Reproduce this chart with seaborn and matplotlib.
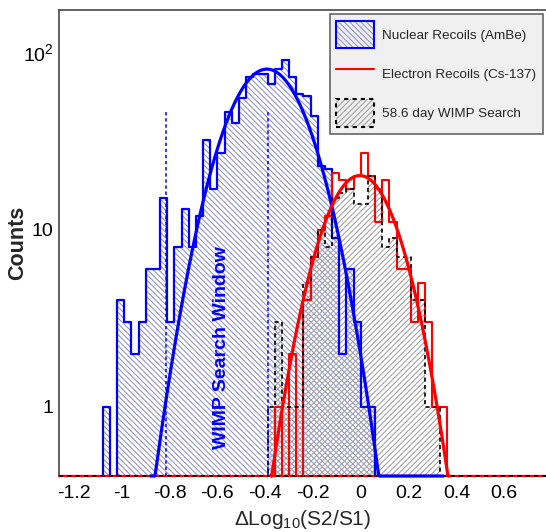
import numpy as np
import pandas as pd
import matplotlib
matplotlib.use("Agg")
import matplotlib.pyplot as plt
import seaborn as sns
from matplotlib.patches import Patch
from matplotlib.lines import Line2D
from matplotlib.legend_handler import HandlerTuple
from matplotlib.ticker import FixedLocator, FixedFormatter, NullFormatter

# ---------------- data ----------------
bin_width = 0.03
hist_lo, hist_hi = -1.29, 0.81

# Nuclear recoils (AmBe): counts per 0.03 bin, first bin starts at -1.08
nr_first_edge = -1.08
nr_counts = [1, 0, 4, 3, 2, 3, 6, 6, 15, 3,
             8, 13, 8, 12, 32, 17, 27, 46, 40, 55,
             73, 76, 76, 66, 81, 91, 73, 58, 57, 44,
             23, 22, 9, 2, 6, 3, 1, 1]

# Electron recoils (Cs-137): first bin starts at -0.36
er_first_edge = -0.36
er_counts = [1, 0, 2, 0, 4, 7, 10, 12, 21, 19,
             17, 20, 27, 20, 11, 19, 11, 6, 6, 3,
             5, 3, 1, 1]

# 58.6 day WIMP search: first bin starts at -0.39
wimp_first_edge = -0.39
wimp_counts = [1, 3, 1, 1, 1, 5, 7, 10, 8, 15,
               16, 17, 14, 14, 20, 17, 8, 9, 7, 7,
               4, 4, 1, 1]

# Gaussian fits (amplitude, mean, sigma, drawn range)
nr_fit = [80.5, -0.393, 0.144, -0.88, 0.345]
er_fit = [20.2, -0.004, 0.132, -0.375, 0.37]

window_edges = [-0.815, -0.388]
window_top = 46

x_ticks = [-1.2, -1.0, -0.8, -0.6, -0.4, -0.2, 0.0, 0.2, 0.4, 0.6]
x_tick_labels = ["-1.2", "-1", "-0.8", "-0.6", "-0.4", "-0.2", "0", "0.2", "0.4", "0.6"]
y_ticks = [1, 10, 100]
y_tick_labels = ["1", "10", "10$^{2}$"]
legend_labels = ["Nuclear Recoils (AmBe)", "Electron Recoils (Cs-137)", "58.6 day WIMP Search"]

x_lim = (-1.263, 0.775)
y_lim = (0.408, 173.4)

# ---------------- style ----------------
sns.set_theme(style="white")
plt.rcParams["font.family"] = ["Liberation Sans", "DejaVu Sans"]
plt.rcParams["mathtext.fontset"] = "custom"
plt.rcParams["mathtext.rm"] = "Liberation Sans"
plt.rcParams["mathtext.it"] = "Liberation Sans:italic"
plt.rcParams["mathtext.bf"] = "Liberation Sans:bold"
plt.rcParams["hatch.linewidth"] = 0.8

NR_BLUE = "#0000ff"
ER_RED = "#ff0000"
NR_HATCH = "#9496cc"
WIMP_HATCH = "#a3a3a3"
AXIS_GRAY = "#555555"
NR_HATCH_PAT = "\\" * 6
WIMP_HATCH_PAT = "/" * 6

fig = plt.figure(figsize=(5.46, 5.32), dpi=100)
fig.patch.set_facecolor("white")
ax = fig.add_axes([59 / 546, 56 / 532, 487 / 546, 466 / 532])
ax.set_yscale("log")

n_bins = int(round((hist_hi - hist_lo) / bin_width))
edges = [round(hist_lo + bin_width * i, 4) for i in range(n_bins + 1)]
centers = np.array(edges[:-1]) + bin_width / 2


def full_counts(first_edge, counts):
    arr = np.zeros(n_bins)
    i0 = int(round((first_edge - hist_lo) / bin_width))
    arr[i0:i0 + len(counts)] = counts
    return arr


df = pd.DataFrame({
    "x": centers,
    "nr": full_counts(nr_first_edge, nr_counts),
    "er": full_counts(er_first_edge, er_counts),
    "wimp": full_counts(wimp_first_edge, wimp_counts),
})

# baseline (empty bins drawn along the bottom)
ax.axhline(y_lim[0], color=ER_RED, lw=1.6, clip_on=False, zorder=2.6)
ax.axhline(y_lim[0], color="black", lw=1.2, ls=(0, (2.5, 2.5)), clip_on=False, zorder=2.7)

# hatched fills
sns.histplot(data=df, x="x", weights="nr", bins=edges, element="step", fill=True,
             color=NR_HATCH, facecolor="none", edgecolor=NR_HATCH, linewidth=0,
             hatch=NR_HATCH_PAT, ax=ax, zorder=1)
sns.histplot(data=df, x="x", weights="wimp", bins=edges, element="step", fill=True,
             color=WIMP_HATCH, facecolor="none", edgecolor=WIMP_HATCH, linewidth=0,
             hatch=WIMP_HATCH_PAT, ax=ax, zorder=1)

# outlines
sns.histplot(data=df, x="x", weights="nr", bins=edges, element="step", fill=False,
             color=NR_BLUE, linewidth=1.6, ax=ax, zorder=3)
sns.histplot(data=df, x="x", weights="er", bins=edges, element="step", fill=False,
             color=ER_RED, linewidth=1.5, ax=ax, zorder=3.1)
sns.histplot(data=df, x="x", weights="wimp", bins=edges, element="step", fill=False,
             color="black", linewidth=1.2, linestyle=(0, (2.5, 2.0)), ax=ax, zorder=3.2)


def gauss_curve(p):
    amp, mu, sig, lo, hi = p
    xs = np.linspace(lo, hi, 400)
    ys = amp * np.exp(-0.5 * ((xs - mu) / sig) ** 2)
    return xs, np.maximum(ys, y_lim[0])


xs, ys = gauss_curve(nr_fit)
sns.lineplot(x=xs, y=ys, color=NR_BLUE, linewidth=2.3, ax=ax, estimator=None,
             sort=False, clip_on=False, zorder=4)
xs, ys = gauss_curve(er_fit)
sns.lineplot(x=xs, y=ys, color=ER_RED, linewidth=2.3, ax=ax, estimator=None,
             sort=False, clip_on=False, zorder=4.1)

# WIMP search window
for xw in window_edges:
    ax.plot([xw, xw], [y_lim[0], window_top], color=NR_BLUE, lw=1.1,
            ls=(0, (2.2, 1.8)), zorder=3.5)
ax.text(-0.582, 2.15, "WIMP Search Window", rotation=90, ha="center", va="center",
        color=NR_BLUE, fontsize=14, fontweight="bold", zorder=5)

# axes
ax.set_xlim(*x_lim)
ax.set_ylim(*y_lim)
ax.xaxis.set_major_locator(FixedLocator(x_ticks))
ax.xaxis.set_major_formatter(FixedFormatter(x_tick_labels))
ax.xaxis.set_minor_locator(FixedLocator(np.round(np.arange(-1.25, 0.78, 0.05), 3)))
ax.yaxis.set_major_locator(FixedLocator(y_ticks))
ax.yaxis.set_major_formatter(FixedFormatter(y_tick_labels))
y_minor = [0.5, 0.6, 0.7, 0.8, 0.9] + list(range(2, 10)) + list(range(20, 100, 10))
ax.yaxis.set_minor_locator(FixedLocator(y_minor))
ax.yaxis.set_minor_formatter(NullFormatter())

ax.tick_params(axis="both", which="both", direction="in", colors=AXIS_GRAY,
               labelcolor="black", width=1.0)
ax.tick_params(axis="x", which="major", length=8.5, labelsize=14, pad=6.5)
ax.tick_params(axis="x", which="minor", length=4.2)
ax.tick_params(axis="y", which="major", length=8.5, labelsize=14, pad=4)
ax.tick_params(axis="y", which="minor", length=5.5)
ax.tick_params(top=False, right=False, which="both")

for side in ["left", "bottom", "top"]:
    ax.spines[side].set_color(AXIS_GRAY)
    ax.spines[side].set_linewidth(1.3)
ax.spines["right"].set_visible(False)

ax.set_xlabel("$\\Delta$Log$_{10}$(S2/S1)", fontsize=15, labelpad=4)
ax.set_ylabel("Counts", fontsize=15.5, fontweight="bold")
ax.yaxis.set_label_coords(-0.064, 0.5)

# legend
h1 = (Patch(facecolor="none", edgecolor=NR_HATCH, hatch=NR_HATCH_PAT, linewidth=0),
      Patch(facecolor="none", edgecolor=NR_BLUE, linewidth=1.5))
h2 = Line2D([], [], color=ER_RED, lw=1.5)
h3 = (Patch(facecolor="none", edgecolor=WIMP_HATCH, hatch=WIMP_HATCH_PAT, linewidth=0),
      Patch(facecolor="none", edgecolor="black", linewidth=1.5, linestyle=(0, (2, 2))))
leg = ax.legend([h1, h2, h3], legend_labels,
                handler_map={tuple: HandlerTuple(ndivide=1, pad=0)},
                loc="upper right", bbox_to_anchor=(542.7 / 546, 1 - 14 / 532),
                bbox_transform=fig.transFigure, borderaxespad=0, frameon=True,
                fancybox=False, fontsize=9.7, handlelength=2.82, handleheight=2.78,
                handletextpad=0.55, labelspacing=0.87, borderpad=0.5,
                edgecolor="#666666", facecolor="#f0f0f0", framealpha=1)
leg.get_frame().set_linewidth(1.2)
leg.set_zorder(10)

fig.savefig("out.png", dpi=100)
